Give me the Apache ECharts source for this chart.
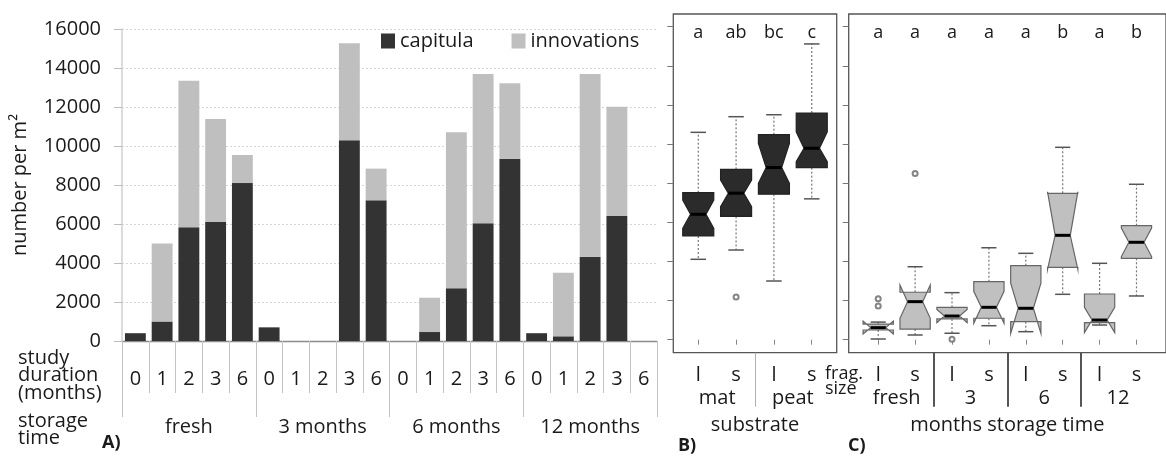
<!DOCTYPE html>
<html>
<head>
<meta charset="utf-8">
<script src="https://cdn.jsdelivr.net/npm/echarts@6/dist/echarts.min.js"></script>
<style>
  html, body { margin: 0; padding: 0; background: #fff; }
  #main { width: 1166px; height: 457px; }
</style>
</head>
<body>
<div id="main"></div>
<script>
//*************** data ***************
// panel A: stacked bars
var studyDuration = ['0', '1', '2', '3', '6'];
var storageTime = ['fresh', '3 months', '6 months', '12 months'];
var capitula    = [400, 1000, 5830, 6100, 8100,   700, 0, 0, 10290, 7215,   0, 460, 2700, 6035, 9350,   400, 240, 4320, 6410, 0];
var innovations = [0, 4000, 7520, 5285, 1440,     0, 0, 0, 4975, 1625,      0, 1760, 8000, 7655, 3865,  0, 3260, 9370, 5600, 0];
var yTicksA = [0, 2000, 4000, 6000, 8000, 10000, 12000, 14000, 16000];

// panel B: substrate boxplots  [min, q1, median, q3, max, notchLow, notchHigh]
var substrateLevels = ['l', 's', 'l', 's'];
var substrateGroups = ['mat', 'peat'];
var substrateLetters = ['a', 'ab', 'bc', 'c'];
var substrateStats = [
    [4110, 5300, 6410, 7515, 10600, 5695, 7140],
    [4585, 6300, 7490, 8710, 11400, 6800, 8165],
    [3000, 7440, 8800, 10480, 11500, 7995, 10040],
    [7200, 8795, 9785, 11590, 15120, 9100, 10630]
];
var substrateOutliers = [[2, 2180]];

// panel C: storage time boxplots
var storageLevels = ['l', 's', 'l', 's', 'l', 's', 'l', 's'];
var storageGroups = ['fresh', '3', '6', '12'];
var storageLetters = ['a', 'a', 'a', 'a', 'a', 'b', 'a', 'b'];
var storageStats = [
    [35, 495, 615, 800, 900, 290, 955],
    [240, 545, 1945, 2425, 3730, 1095, 2795],
    [330, 1060, 1210, 1655, 2405, 870, 1550],
    [715, 1095, 1655, 2965, 4700, 840, 2470],
    [410, 920, 1605, 3785, 4415, 325, 2885],
    [2320, 3700, 5335, 7485, 9835, 3600, 7560],
    [750, 870, 1005, 2335, 3905, 360, 1650],
    [2235, 4160, 4980, 5830, 7945, 4250, 5710]
];
var storageOutliers = [[1, 1720], [1, 2095], [2, 8500], [3, 20]];

//*************** helpers ***************
var FONT = 'Open Sans';
var TXT = '#1a1a1a';
var categories = [];
storageTime.forEach(function (s) {
    studyDuration.forEach(function (d) { categories.push(s + '|' + d); });
});

function seq(n) {
    var a = [];
    for (var i = 1; i <= n; i++) a.push(i);
    return a;
}
function mids(nGroups) {
    var a = [];
    for (var i = 0; i < nGroups; i++) a.push(i * 2 + 1.5);
    return a;
}
function seps(nGroups) {
    var a = [];
    for (var i = 1; i < nGroups; i++) a.push(i * 2 + 0.5);
    return a;
}

function notchBox(fill, stroke) {
    return function (params, api) {
        var x = api.value(0);
        var half = api.size([1, 0])[0] * 0.41;
        var c = function (v) { return api.coord([x, v]); };
        var cx = c(api.value(3))[0];
        var yMin = c(api.value(1))[1], yQ1 = c(api.value(2))[1], yMed = c(api.value(3))[1];
        var yQ3 = c(api.value(4))[1], yMax = c(api.value(5))[1];
        var yNL = c(api.value(6))[1], yNH = c(api.value(7))[1];
        var xl = cx - half, xr = cx + half, inset = half * 0.5;
        var capHalf = half * 0.5;
        return {
            type: 'group',
            children: [
                { type: 'line', shape: { x1: cx, y1: yQ3, x2: cx, y2: yMax },
                  style: { stroke: '#777', lineWidth: 1.2, lineDash: [2, 2] } },
                { type: 'line', shape: { x1: cx, y1: yQ1, x2: cx, y2: yMin },
                  style: { stroke: '#777', lineWidth: 1.2, lineDash: [2, 2] } },
                { type: 'line', shape: { x1: cx - capHalf, y1: yMax, x2: cx + capHalf, y2: yMax },
                  style: { stroke: '#555', lineWidth: 1.5 } },
                { type: 'line', shape: { x1: cx - capHalf, y1: yMin, x2: cx + capHalf, y2: yMin },
                  style: { stroke: '#555', lineWidth: 1.5 } },
                { type: 'polygon',
                  shape: { points: [
                      [xl, yQ1], [xr, yQ1], [xr, yNL], [xr - inset, yMed], [xr, yNH],
                      [xr, yQ3], [xl, yQ3], [xl, yNH], [xl + inset, yMed], [xl, yNL]
                  ] },
                  style: { fill: fill, stroke: stroke, lineWidth: 1.2 } },
                { type: 'line', shape: { x1: xl + inset, y1: yMed, x2: xr - inset, y2: yMed },
                  style: { stroke: '#000', lineWidth: 3 } }
            ]
        };
    };
}

var boxYAxis = function (grid) {
    return {
        type: 'value', gridIndex: grid, min: -665, max: 16650,
        axisLine: { show: false },
        axisTick: { show: true, length: 6, customValues: yTicksA, lineStyle: { color: '#777' } },
        axisLabel: { show: false },
        splitLine: { show: false }
    };
};

var boxLevelAxis = function (grid, min, max, levels) {
    return {
        type: 'value', gridIndex: grid, position: 'bottom', min: min, max: max,
        axisLine: { show: false },
        splitLine: { show: false },
        axisTick: { show: true, length: 5, customValues: seq(levels.length), lineStyle: { color: '#888' } },
        axisLabel: {
            customValues: seq(levels.length), margin: 13,
            fontFamily: FONT, fontSize: 20, color: TXT,
            formatter: function (v) { return levels[Math.round(v) - 1]; }
        }
    };
};

var boxGroupAxis = function (grid, min, max, groups, name, sepColor, sepWidth) {
    return {
        type: 'value', gridIndex: grid, position: 'bottom', min: min, max: max,
        name: name, nameLocation: 'middle', nameGap: 63,
        nameTextStyle: { fontFamily: FONT, fontSize: 20, color: TXT },
        axisLine: { show: false },
        splitLine: { show: false },
        axisTick: { show: true, length: 54, customValues: seps(groups.length),
                    lineStyle: { color: sepColor, width: sepWidth } },
        axisLabel: {
            customValues: mids(groups.length), margin: 36,
            fontFamily: FONT, fontSize: 20, color: TXT,
            formatter: function (v) { return groups[Math.round((v - 1.5) / 2)]; }
        }
    };
};

var letterAxis = function (grid, min, max, letters) {
    return {
        type: 'value', gridIndex: grid, position: 'top', min: min, max: max,
        axisLine: { show: false },
        axisTick: { show: false },
        splitLine: { show: false },
        axisLabel: {
            inside: true, customValues: seq(letters.length), margin: 10,
            fontFamily: FONT, fontSize: 18, color: TXT,
            formatter: function (v) { return letters[Math.round(v) - 1]; }
        }
    };
};

//*************** chart ***************
var chart = echarts.init(document.getElementById('main'), null, { renderer: 'canvas' });

var option = {
    animation: false,
    textStyle: { fontFamily: FONT },
    grid: [
        { left: 122, top: 29, width: 535, height: 312 },
        { left: 673.3, top: 14, width: 163.4, height: 338.7, show: true, borderColor: '#555', borderWidth: 1.3 },
        { left: 848.7, top: 14, width: 327.6, height: 338.7, show: true, borderColor: '#555', borderWidth: 1.3 }
    ],
    legend: {
        left: 376, top: 26, icon: 'rect',
        itemWidth: 14, itemHeight: 15, itemGap: 38,
        textStyle: { fontFamily: FONT, fontSize: 20, color: TXT },
        data: ['capitula', 'innovations']
    },
    xAxis: [
        {
            type: 'category', gridIndex: 0, position: 'bottom', data: categories,
            axisLine: { show: true, lineStyle: { color: '#8c8c8c', width: 1.3 } },
            axisTick: { show: true, interval: 0, length: 52, lineStyle: { color: '#c4c4c4' } },
            axisLabel: {
                interval: 0, margin: 28, fontFamily: FONT, fontSize: 20, color: TXT,
                formatter: function (v) { return v.split('|')[1]; }
            }
        },
        {
            type: 'category', gridIndex: 0, position: 'bottom', data: storageTime,
            axisLine: { show: false },
            axisTick: { show: true, interval: 0, length: 76, lineStyle: { color: '#c4c4c4' } },
            axisLabel: { interval: 0, margin: 76, fontFamily: FONT, fontSize: 20, color: TXT }
        },
        boxLevelAxis(1, 0.34, 4.66, substrateLevels),
        boxGroupAxis(1, 0.34, 4.66, substrateGroups, 'substrate', '#b0b0b0', 1),
        letterAxis(1, 0.34, 4.66, substrateLetters),
        boxLevelAxis(2, 0.2, 8.8, storageLevels),
        boxGroupAxis(2, 0.2, 8.8, storageGroups, 'months storage time', '#555', 2),
        letterAxis(2, 0.2, 8.8, storageLetters)
    ],
    yAxis: [
        {
            type: 'value', gridIndex: 0, min: 0, max: 16000, interval: 2000,
            name: 'number per m²', nameLocation: 'middle', nameGap: 92,
            nameTextStyle: { fontFamily: FONT, fontSize: 20, color: TXT },
            axisLine: { show: true, lineStyle: { color: '#d0d0d0', width: 1.5 } },
            axisTick: { show: true, length: 8, lineStyle: { color: '#bdbdbd' } },
            axisLabel: { margin: 21, fontFamily: FONT, fontSize: 20, color: TXT,
                         formatter: function (v) { return String(v); } },
            splitLine: { show: true, lineStyle: { color: '#d6d6d6', type: [2, 2] } }
        },
        boxYAxis(1),
        boxYAxis(2)
    ],
    series: [
        {
            name: 'capitula', type: 'bar', stack: 'total', xAxisIndex: 0, yAxisIndex: 0,
            barCategoryGap: '22%', data: capitula,
            itemStyle: { color: '#333333' }
        },
        {
            name: 'innovations', type: 'bar', stack: 'total', xAxisIndex: 0, yAxisIndex: 0,
            barCategoryGap: '22%', data: innovations,
            itemStyle: { color: '#bfbfbf' }
        },
        {
            name: 'substrate', type: 'custom', xAxisIndex: 2, yAxisIndex: 1,
            renderItem: notchBox('#2b2b2b', '#222'),
            encode: { x: 0, y: [1, 2, 3, 4, 5, 6, 7] },
            data: substrateStats.map(function (s, i) { return [i + 1].concat(s); })
        },
        {
            name: 'substrate outliers', type: 'scatter', xAxisIndex: 2, yAxisIndex: 1,
            symbol: 'emptyCircle', symbolSize: 5, itemStyle: { color: '#666', borderWidth: 1.2 },
            data: substrateOutliers
        },
        {
            name: 'storage', type: 'custom', xAxisIndex: 5, yAxisIndex: 2,
            renderItem: notchBox('#c0c0c0', '#666'),
            encode: { x: 0, y: [1, 2, 3, 4, 5, 6, 7] },
            data: storageStats.map(function (s, i) { return [i + 1].concat(s); })
        },
        {
            name: 'storage outliers', type: 'scatter', xAxisIndex: 5, yAxisIndex: 2,
            symbol: 'emptyCircle', symbolSize: 5, itemStyle: { color: '#666', borderWidth: 1.2 },
            data: storageOutliers
        }
    ],
    graphic: [
        { type: 'text', left: 18, top: 348,
          style: { text: 'study\nduration\n(months)', font: '20px "Open Sans"', lineHeight: 17.5, fill: TXT } },
        { type: 'text', left: 18, top: 411,
          style: { text: 'storage\ntime', font: '20px "Open Sans"', lineHeight: 17.5, fill: TXT } },
        { type: 'text', left: 102, top: 434,
          style: { text: 'A)', font: 'bold 18px "Open Sans"', fill: TXT } },
        { type: 'text', left: 678, top: 437,
          style: { text: 'B)', font: 'bold 18px "Open Sans"', fill: TXT } },
        { type: 'text', left: 848, top: 437,
          style: { text: 'C)', font: 'bold 18px "Open Sans"', fill: TXT } },
        { type: 'text', left: 825, top: 365,
          style: { text: 'frag.\nsize', font: '18px "Open Sans"', lineHeight: 15, fill: TXT } }
    ]
};

chart.setOption(option);
</script>
</body>
</html>
